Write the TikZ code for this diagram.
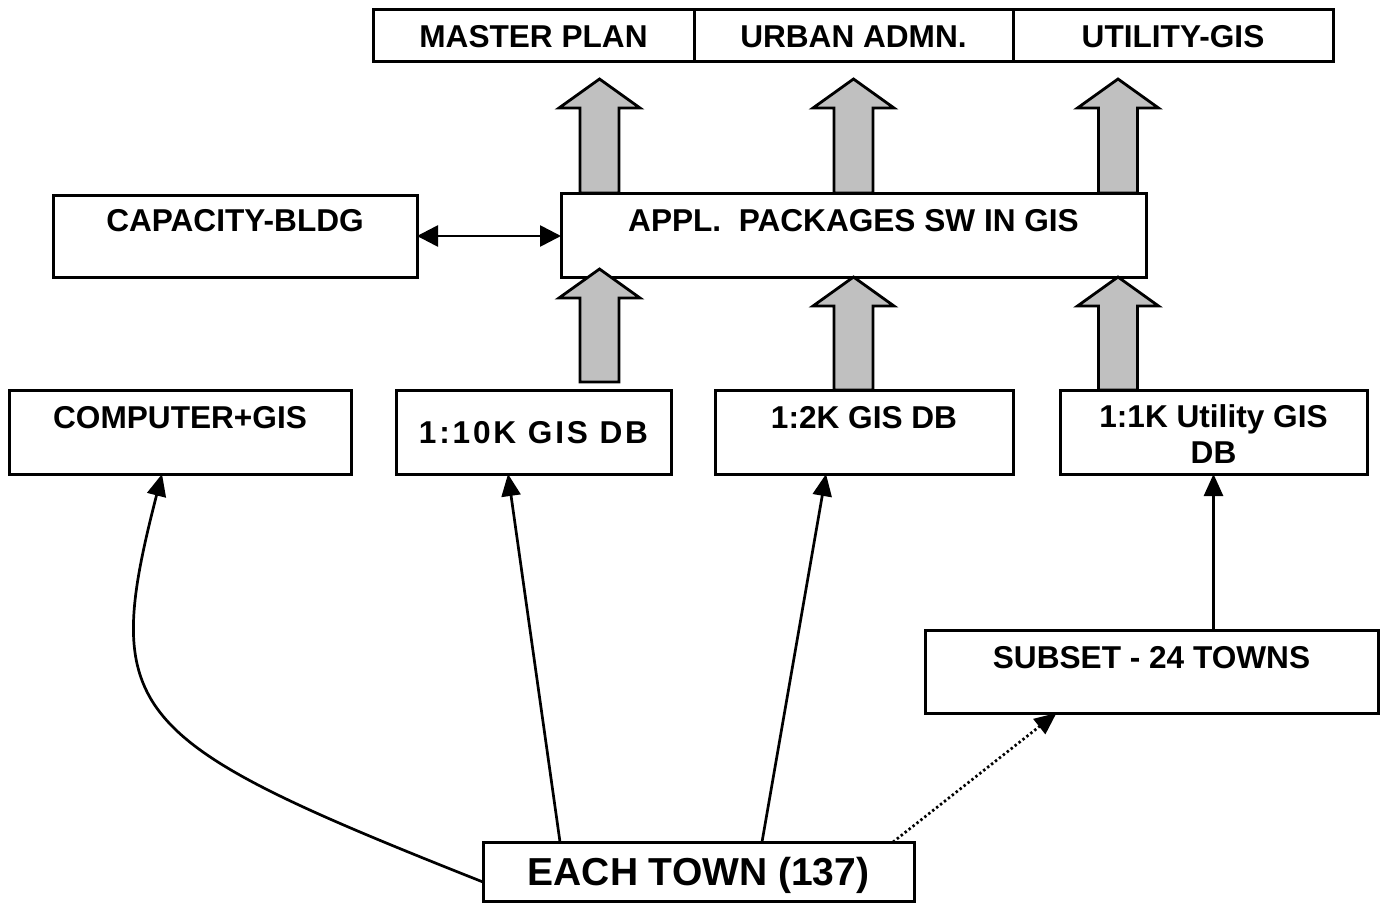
\documentclass[tikz,border=0pt]{standalone}
\usepackage{fontspec}
\setmainfont{Liberation Sans}
\usetikzlibrary{arrows.meta,fit,calc}
\definecolor{arrowgray}{RGB}{192,192,192}
\newcommand{\labelfont}{\fontsize{31.6bp}{36bp}\selectfont\bfseries}
\newcommand{\townfont}{\fontsize{39bp}{44bp}\selectfont\bfseries}
\tikzset{
  box/.style={draw, line width=3bp, inner sep=0pt, outer sep=0pt},
  lbl/.style={font=\labelfont, anchor=base, inner sep=0pt, align=center},
  link/.style={line width=2.7bp, -{Triangle[length=22bp,width=19bp]}},
  twoway/.style={line width=2.7bp, {Triangle[length=21bp,width=21bp]}-{Triangle[length=21bp,width=21bp]}},
  dotlink/.style={line width=2.7bp, dash pattern=on 2.4bp off 2.6bp, -{Triangle[length=22bp,width=19bp]}},
  fat/.style={draw, line width=2.8bp, fill=arrowgray, line join=miter},
}
\begin{document}
\begin{tikzpicture}[x=1bp, y=-1bp]
\useasboundingbox (0,0) rectangle (1382,903);

% top row of application areas
\node[box, fit={(373,9) (694,61)}] (mp) {};
\node[box, fit={(694,9) (1013,61)}] (ua) {};
\node[box, fit={(1013,9) (1333,61)}] (ug) {};

% middle row
\node[box, fit={(53,195) (417,277)}] (cap) {};
\node[box, fit={(561,193) (1146,277)}] (appl) {};

% databases
\node[box, fit={(9,390) (351,474)}] (comp) {};
\node[box, fit={(396,390) (671,474)}] (db10) {};
\node[box, fit={(715,390) (1013,474)}] (db2) {};
\node[box, fit={(1060,390) (1367,474)}] (db1) {};

% towns
\node[box, fit={(925,630) (1378,713)}] (subset) {};
\node[box, fit={(483,842) (914,901)}] (town) {};

% wide grey arrows
\foreach \cx/\tip/\bot in {599.5/79/193, 853.5/79/193, 1118/79/193,
                           599.5/269/382, 853.5/277/390, 1118/277/390}{
  \draw[fat] ({\cx-19.5},\bot) -- ({\cx-19.5},{\tip+29}) -- ({\cx-40.5},{\tip+29})
    -- (\cx,\tip) -- ({\cx+40.5},{\tip+29}) -- ({\cx+19.5},{\tip+29})
    -- ({\cx+19.5},\bot) -- cycle;
}

% labels
\node[lbl] at (533.5,47) {MASTER PLAN};
\node[lbl] at (853.5,47) {URBAN ADMN.};
\node[lbl] at (1173,47) {UTILITY-GIS};
\node[lbl] at (235,231) {CAPACITY-BLDG};
\node[lbl] at (853.5,231) {APPL.\ \ PACKAGES SW IN GIS};
\node[lbl] at (180,428) {COMPUTER+GIS};
\node[lbl] at (533.5,443) {\addfontfeature{LetterSpace=8.9}1:10K GIS DB};
\node[lbl] at (864,428) {1:2K GIS DB};
\node[lbl] at (1213.5,463) {1:1K Utility GIS\\DB};
\node[lbl] at (1151.5,668) {SUBSET - 24 TOWNS};
\node[lbl, font=\townfont] at (698.5,885) {EACH TOWN (137)};

% connectors
\draw[twoway] (cap.east) -- (appl.west |- cap.east);
\draw[link] ([yshift=-40bp]town.north west)
  .. controls (125,740) and (100,715) .. ([xshift=-18bp]comp.south);
\draw[link] ([xshift=77bp]town.north west) -- ([xshift=112bp]db10.south west);
\draw[link] ([xshift=279bp]town.north west) -- ([xshift=111bp]db2.south west);
\draw[dotlink] ([xshift=-21bp]town.north east) -- ([xshift=-95bp]subset.south);
\draw[link] (db1.south |- subset.north) -- (db1.south);
\end{tikzpicture}
\end{document}
